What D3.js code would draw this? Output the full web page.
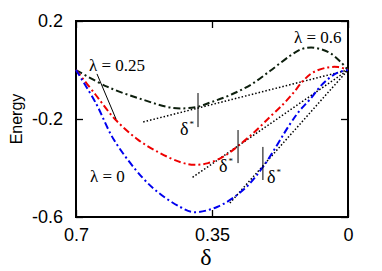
<!DOCTYPE html>
<html>
<head>
<meta charset="utf-8">
<script src="https://cdn.jsdelivr.net/npm/d3@7"></script>
<style>
  body { margin: 0; background: #fff; }
  svg text { fill: #000; }
</style>
</head>
<body>
<div id="chart"></div>
<script>
// delta values (x axis, reversed) and energies
const blackDelta = [0.7, 0.62, 0.53, 0.45, 0.39, 0.35, 0.3, 0.25, 0.2, 0.15, 0.12, 0.095, 0.07, 0.045, 0.02, 0];
const blackEnergy = [0, -0.068, -0.12, -0.155, -0.151, -0.13, -0.1, -0.06, -0.003, 0.057, 0.085, 0.092, 0.085, 0.068, 0.035, 0];

const redDelta = [0.7, 0.65, 0.6, 0.54, 0.484, 0.43, 0.395, 0.36, 0.322, 0.286, 0.242, 0.2, 0.167, 0.141, 0.116, 0.09, 0.054, 0.025, 0];
const redEnergy = [0, -0.1, -0.2, -0.285, -0.339, -0.377, -0.387, -0.38, -0.355, -0.314, -0.255, -0.19, -0.14, -0.094, -0.045, -0.01, 0.01, 0.012, 0];

const blueDelta = [0.7, 0.649, 0.602, 0.528, 0.48, 0.432, 0.399, 0.337, 0.27, 0.219, 0.149, 0.124, 0.098, 0.064, 0.028, 0];
const blueEnergy = [0, -0.135, -0.286, -0.441, -0.51, -0.559, -0.58, -0.559, -0.49, -0.396, -0.22, -0.165, -0.12, -0.055, -0.012, 0];

// dotted tangents from the origin: [start delta, start energy]
const tangentStarts = [[0.527, -0.212], [0.4, -0.438], [0.304, -0.543]];
// delta* markers: [delta, energy top, energy bottom]
const markers = [[0.386, -0.094, -0.233], [0.283, -0.245, -0.38], [0.219, -0.314, -0.449]];

const yTicks = [0.2, -0.2, -0.6];
const xTicks = [0.7, 0.35, 0];

const width = 382, height = 271;
const margin = { top: 21, right: 34, bottom: 54, left: 76 };

const svg = d3.select("#chart").append("svg")
    .attr("width", width)
    .attr("height", height);

const x = d3.scaleLinear().domain([0.7, 0]).range([margin.left, width - margin.right]);
const y = d3.scaleLinear().domain([0.2, -0.6]).range([margin.top, height - margin.bottom]);

const sans = "'Liberation Sans', Arial, sans-serif";
const serif = "'Liberation Serif', 'Times New Roman', serif";

function styleAxis(g) {
    g.select(".domain").remove();
    g.selectAll(".tick line").attr("stroke", "#000").attr("stroke-width", 1.3);
    g.selectAll("text").attr("font-family", sans).attr("font-size", 18).attr("fill", "#000");
}

svg.append("g")
    .attr("transform", `translate(${margin.left},0)`)
    .call(d3.axisLeft(y).tickValues(yTicks).tickSize(-7).tickPadding(13).tickFormat(d => d.toFixed(1)))
    .call(styleAxis);

svg.append("g")
    .attr("transform", `translate(${width - margin.right},0)`)
    .call(d3.axisRight(y).tickValues(yTicks).tickSize(-7).tickFormat(""))
    .call(styleAxis);

svg.append("g")
    .attr("transform", `translate(0,${height - margin.bottom})`)
    .call(d3.axisBottom(x).tickValues(xTicks).tickSize(-7).tickPadding(11).tickFormat(d => d === 0 ? "0" : String(d)))
    .call(styleAxis);

svg.append("g")
    .attr("transform", `translate(0,${margin.top})`)
    .call(d3.axisTop(x).tickValues(xTicks).tickSize(-7).tickFormat(""))
    .call(styleAxis);

// frame
svg.append("rect")
    .attr("x", x(0.7)).attr("y", y(0.2))
    .attr("width", x(0) - x(0.7)).attr("height", y(-0.6) - y(0.2))
    .attr("fill", "none").attr("stroke", "#000").attr("stroke-width", 2);

const line = d3.line()
    .x(d => x(d[0]))
    .y(d => y(d[1]))
    .curve(d3.curveCatmullRom.alpha(0.5));

// tangents
tangentStarts.forEach(s => {
    svg.append("path")
        .attr("d", d3.line().x(d => x(d[0])).y(d => y(d[1]))([s, [0, 0]]))
        .attr("fill", "none")
        .attr("stroke", "#000")
        .attr("stroke-width", 1.5)
        .attr("stroke-dasharray", "1.5,2");
});

const series = [
    { delta: blackDelta, energy: blackEnergy, color: "#0d1f0d" },
    { delta: redDelta, energy: redEnergy, color: "#ee0000" },
    { delta: blueDelta, energy: blueEnergy, color: "#0000ee" }
];

series.forEach(s => {
    svg.append("path")
        .datum(d3.zip(s.delta, s.energy))
        .attr("d", line)
        .attr("fill", "none")
        .attr("stroke", s.color)
        .attr("stroke-width", 2)
        .attr("stroke-dasharray", "7,3,2,3");
});

// delta* markers
svg.selectAll(".marker")
    .data(markers)
    .enter().append("line")
    .attr("class", "marker")
    .attr("x1", d => x(d[0])).attr("x2", d => x(d[0]))
    .attr("y1", d => y(d[1])).attr("y2", d => y(d[2]))
    .attr("stroke", "#000").attr("stroke-width", 1);

function deltaStar(px, py) {
    const t = svg.append("text")
        .attr("x", px).attr("y", py)
        .attr("font-family", serif).attr("font-size", 18);
    t.append("tspan").text("δ");
    t.append("tspan").attr("font-size", 9).attr("dx", 1).attr("dy", -8).text("*");
}
deltaStar(180, 135);
deltaStar(219, 172);
deltaStar(267, 183);

function lambdaLabel(px, py, txt) {
    svg.append("text")
        .attr("x", px).attr("y", py)
        .attr("font-family", serif).attr("font-size", 17)
        .text(txt);
}
lambdaLabel(89, 71, "λ = 0.25");
lambdaLabel(294, 43, "λ = 0.6");
lambdaLabel(90, 182, "λ = 0");

// pointer from the 0.25 label
svg.append("line")
    .attr("x1", x(0.646)).attr("y1", y(-0.016))
    .attr("x2", x(0.597)).attr("y2", y(-0.2))
    .attr("stroke", "#000").attr("stroke-width", 1);

// axis titles
svg.append("text")
    .attr("transform", `translate(21.5,119) rotate(-90)`)
    .attr("text-anchor", "middle")
    .attr("font-family", sans).attr("font-size", 16)
    .text("Energy");

svg.append("text")
    .attr("x", 206).attr("y", 265)
    .attr("text-anchor", "middle")
    .attr("font-family", serif).attr("font-size", 24)
    .text("δ");
</script>
</body>
</html>
